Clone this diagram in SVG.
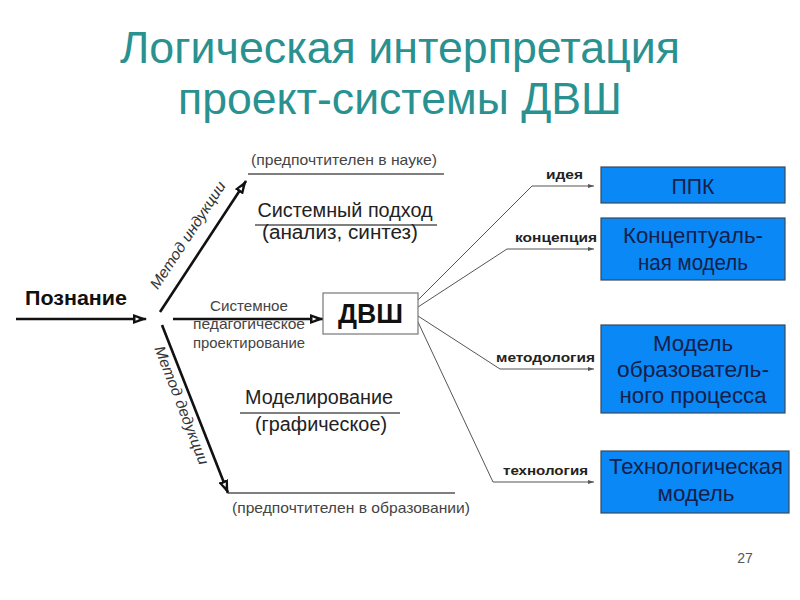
<svg xmlns="http://www.w3.org/2000/svg" width="800" height="600" viewBox="0 0 800 600">
<defs>
<style>
text{font-family:"Liberation Sans",Arial,sans-serif}
.title{font-size:44px;fill:#2a9191;text-anchor:middle}
.g{font-size:15px;fill:#444;text-anchor:middle}
.big{font-size:19.5px;fill:#222;text-anchor:middle}
.lbl{font-size:13.5px;font-weight:bold;fill:#222;text-anchor:end}
.bt{font-size:22px;fill:#14204a;text-anchor:middle}
.thick{stroke:#111;stroke-width:2.6;fill:none}
.thin{stroke:#555;stroke-width:1;fill:none}
.rule{stroke:#555;stroke-width:1.4}
.blue{fill:#0a88f5;stroke:#3a4a5a;stroke-width:1.2}
.it{font-size:15px;font-style:italic;fill:#333;text-anchor:middle}
</style>
<marker id="ah" viewBox="0 0 14 10" refX="13" refY="5" markerWidth="14" markerHeight="10" markerUnits="userSpaceOnUse" orient="auto">
<path d="M0,0 L14,5 L0,10 Z" fill="#111"/>
<path d="M2.5,3.2 L6.5,5 L2.5,6.8 Z" fill="#fff"/>
</marker>
<marker id="sa" viewBox="0 0 6 6" refX="6" refY="3" markerWidth="6" markerHeight="6" markerUnits="userSpaceOnUse" orient="auto">
<path d="M0,1 L6,3 L0,5 Z" fill="#555"/>
</marker>
</defs>
<rect width="800" height="600" fill="#fff"/>

<g id="title">
<text class="title" x="400" y="63" textLength="560" lengthAdjust="spacingAndGlyphs">Логическая интерпретация</text>
<text class="title" x="400" y="114" textLength="444" lengthAdjust="spacingAndGlyphs">проект-системы ДВШ</text>
</g>

<g id="connectors">
<line class="thick" x1="16" y1="319" x2="146" y2="319" marker-end="url(#ah)"/>
<line class="thick" x1="160" y1="312" x2="246" y2="181" marker-end="url(#ah)"/>
<line class="thick" x1="162" y1="325" x2="228" y2="493" marker-end="url(#ah)"/>
<line class="thick" x1="173" y1="319" x2="323" y2="319" marker-end="url(#ah)"/>
<line class="rule" x1="248" y1="174" x2="444" y2="174"/>
<line class="rule" x1="228" y1="493" x2="455" y2="493"/>
<polyline class="thin" points="418,300 532,186 594,186" marker-end="url(#sa)"/>
<polyline class="thin" points="418,307 507,249 594,249" marker-end="url(#sa)"/>
<polyline class="thin" points="418,316 500,369 594,369" marker-end="url(#sa)"/>
<polyline class="thin" points="418,322 493,482 594,482" marker-end="url(#sa)"/>
</g>

<g id="edge-labels">
<text class="it" transform="translate(192,238) rotate(-56.8)" textLength="125" lengthAdjust="spacingAndGlyphs">Метод индукции</text>
<text class="it" transform="translate(177,407) rotate(68.9)" textLength="126" lengthAdjust="spacingAndGlyphs">Метод дедукции</text>
<text class="g" x="344" y="165" textLength="186" lengthAdjust="spacingAndGlyphs">(предпочтителен в науке)</text>
<text class="g" x="351" y="513" textLength="238" lengthAdjust="spacingAndGlyphs">(предпочтителен в образовании)</text>
<text class="g" x="249" y="311" textLength="78" lengthAdjust="spacingAndGlyphs">Системное</text>
<text class="g" x="249" y="329" textLength="112" lengthAdjust="spacingAndGlyphs">педагогическое</text>
<text class="g" x="249" y="348" textLength="112" lengthAdjust="spacingAndGlyphs">проектирование</text>
<text class="lbl" x="583" y="179" textLength="37" lengthAdjust="spacingAndGlyphs">идея</text>
<text class="lbl" x="597" y="242" textLength="82" lengthAdjust="spacingAndGlyphs">концепция</text>
<text class="lbl" x="595" y="362" textLength="99" lengthAdjust="spacingAndGlyphs">методология</text>
<text class="lbl" x="588" y="475" textLength="85" lengthAdjust="spacingAndGlyphs">технология</text>
</g>

<g id="sys">
<text class="big" x="345" y="217" textLength="175" lengthAdjust="spacingAndGlyphs">Системный подход</text>
<line class="rule" x1="255" y1="225" x2="437" y2="225"/>
<text class="big" x="340" y="239" textLength="156" lengthAdjust="spacingAndGlyphs">(анализ, синтез)</text>
</g>

<g id="model">
<text class="big" x="319" y="404" textLength="148" lengthAdjust="spacingAndGlyphs">Моделирование</text>
<line class="rule" x1="240" y1="413" x2="400" y2="413"/>
<text class="big" x="321" y="431" textLength="132" lengthAdjust="spacingAndGlyphs">(графическое)</text>
</g>

<g id="poznanie">
<text x="25" y="305" font-size="20" font-weight="bold" fill="#111" textLength="102" lengthAdjust="spacingAndGlyphs">Познание</text>
</g>

<g id="dvsh">
<rect x="323" y="293" width="95" height="41" fill="#fff" stroke="#777" stroke-width="1.2"/>
<text x="370.5" y="323" text-anchor="middle" font-size="27" font-weight="bold" fill="#111" textLength="65" lengthAdjust="spacingAndGlyphs">ДВШ</text>
</g>

<g id="ppk">
<rect class="blue" x="601" y="167" width="184" height="36"/>
<text class="bt" x="693" y="194" textLength="43" lengthAdjust="spacingAndGlyphs">ППК</text>
</g>

<g id="concept">
<rect class="blue" x="601" y="218" width="184" height="62"/>
<text class="bt" x="693" y="243" textLength="140" lengthAdjust="spacingAndGlyphs">Концептуаль-</text>
<text class="bt" x="693" y="270" textLength="110" lengthAdjust="spacingAndGlyphs">ная модель</text>
</g>

<g id="edu">
<rect class="blue" x="601" y="325" width="184" height="88"/>
<text class="bt" x="693" y="351" textLength="80" lengthAdjust="spacingAndGlyphs">Модель</text>
<text class="bt" x="693" y="377" textLength="152" lengthAdjust="spacingAndGlyphs">образователь-</text>
<text class="bt" x="693" y="403" textLength="147" lengthAdjust="spacingAndGlyphs">ного процесса</text>
</g>

<g id="tech">
<rect class="blue" x="601" y="451" width="188" height="62"/>
<text class="bt" x="696" y="474" textLength="174" lengthAdjust="spacingAndGlyphs">Технологическая</text>
<text class="bt" x="696" y="501" textLength="77" lengthAdjust="spacingAndGlyphs">модель</text>
</g>

<text x="745" y="563" text-anchor="middle" font-size="14" fill="#555">27</text>
</svg>
